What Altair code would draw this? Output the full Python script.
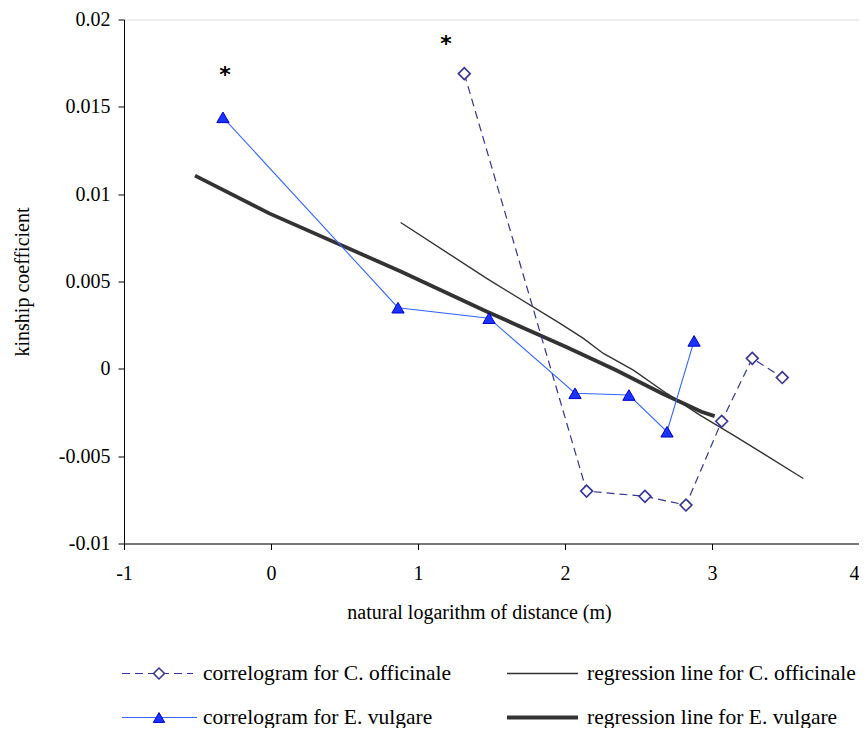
import altair as alt
import pandas as pd

# ---- data ----
cv_x = [-0.327, 0.864, 1.483, 2.068, 2.435, 2.694, 2.878]
cv_y = [0.0144, 0.0035, 0.0029, -0.0014, -0.0015, -0.0036, 0.0016]

co_x = [1.315, 2.147, 2.544, 2.823, 3.066, 3.274, 3.478]
co_y = [0.0169, -0.0070, -0.0073, -0.0078, -0.0030, 0.0006, -0.0005]

reg_co_x = [0.882, 1.467, 1.966, 2.125, 2.261, 2.465, 2.692, 2.918, 3.145, 3.349, 3.621]
reg_co_y = [0.00838, 0.00518, 0.00260, 0.00174, 0.00088, -0.00007, -0.00141, -0.00265, -0.00380, -0.00485, -0.00628]

reg_ev_x = [-0.517, -0.012, 0.887, 1.470, 2.005, 2.345, 2.661, 2.928, 3.018]
reg_ev_y = [0.01106, 0.00890, 0.00556, 0.00327, 0.00126, -0.00007, -0.00141, -0.00246, -0.00271]

star_x = [-0.313, 1.19]
star_y = [0.0168, 0.0186]

x_ticks = [-1, 0, 1, 2, 3, 4]
y_ticks = [-0.01, -0.005, 0, 0.005, 0.01, 0.015, 0.02]

legend_labels = ["correlogram for C. officinale", "regression line for C. officinale",
                 "correlogram for E. vulgare", "regression line for E. vulgare"]

FONT = "Liberation Serif"
W, H = 735, 524

xs = alt.Scale(domain=[-1, 4], nice=False, zero=False)
ys = alt.Scale(domain=[-0.01, 0.02], nice=False, zero=False)

xaxis = alt.Axis(values=x_ticks, grid=False, tickSize=6, domainColor="black", tickColor="black",
                 labelFont=FONT, labelFontSize=20, labelColor="black", labelPadding=14,
                 labelExpr="'' + datum.value",
                 labelAlign=alt.condition("datum.value == 4", alt.value("right"), alt.value("center")),
                 title="natural logarithm of distance (m)", titleFont=FONT, titleFontSize=20,
                 titleFontWeight="normal", titleColor="black", titleX=355, titleY=69,
                 titleBaseline="middle", titleAlign="center")
yaxis = alt.Axis(values=y_ticks, grid=False, tickSize=6, domainColor="black", tickColor="black",
                 labelFont=FONT, labelFontSize=20, labelColor="black", labelPadding=8,
                 labelExpr="'' + datum.value",
                 title="kinship coefficient", titleFont=FONT, titleFontSize=20,
                 titleFontWeight="normal", titleColor="black", titleX=-102, titleY=262,
                 titleAngle=270, titleBaseline="middle", titleAlign="center")

def df(x, y):
    return pd.DataFrame({"x": x, "y": y, "i": list(range(len(x)))})

enc = dict(x=alt.X("x:Q", scale=xs, axis=xaxis), y=alt.Y("y:Q", scale=ys, axis=yaxis),
           order="i:Q")

reg_co = alt.Chart(df(reg_co_x, reg_co_y)).mark_line(color="#333333", strokeWidth=1.4).encode(**enc)
reg_ev = alt.Chart(df(reg_ev_x, reg_ev_y)).mark_line(color="#333333", strokeWidth=3.8).encode(**enc)

co_line = alt.Chart(df(co_x, co_y)).mark_line(color="#333399", strokeWidth=1.2, strokeDash=[8, 5]).encode(**enc)
co_pts = alt.Chart(df(co_x, co_y)).mark_point(shape="diamond", size=140, filled=True, fill="white",
                                              stroke="#333399", strokeWidth=1.6, opacity=1).encode(
    x=alt.X("x:Q", scale=xs), y=alt.Y("y:Q", scale=ys))

ev_line = alt.Chart(df(cv_x, cv_y)).mark_line(color="#3366ff", strokeWidth=1.1).encode(**enc)
ev_pts = alt.Chart(df(cv_x, cv_y)).mark_point(shape="triangle-up", size=150, filled=True, fill="#1a33ff",
                                              stroke="#0000cc", strokeWidth=1, opacity=1).encode(
    x=alt.X("x:Q", scale=xs), y=alt.Y("y:Q", scale=ys))

stars = alt.Chart(df(star_x, star_y)).mark_text(text="*", font="DejaVu Sans", fontSize=22,
                                                fontWeight="bold", color="black", baseline="middle").encode(
    x=alt.X("x:Q", scale=xs), y=alt.Y("y:Q", scale=ys))

one = pd.DataFrame({"a": [0]})
R1, R2 = 654, 698

def lrule(x1, x2, yy, **kw):
    return alt.Chart(one).mark_rule(**kw).encode(x=alt.value(x1), x2=alt.value(x2), y=alt.value(yy))

def ltext(xx, yy, t):
    return alt.Chart(one).mark_text(align="left", baseline="middle", font=FONT, fontSize=21.5,
                                    color="black").encode(x=alt.value(xx), y=alt.value(yy), text=alt.value(t))

legend = [
    lrule(-2, 69, R1, color="#333399", strokeWidth=1.2, strokeDash=[8, 5]),
    alt.Chart(one).mark_point(shape="diamond", size=120, filled=True, fill="white", stroke="#333399",
                              strokeWidth=1.6, opacity=1).encode(x=alt.value(35), y=alt.value(R1)),
    ltext(79, R1, legend_labels[0]),
    lrule(383, 454, R1, color="#333333", strokeWidth=1.4),
    ltext(463, R1, legend_labels[1]),
    lrule(-2, 73, R2, color="#3366ff", strokeWidth=1.1),
    alt.Chart(one).mark_point(shape="triangle-up", size=130, filled=True, fill="#1a33ff", stroke="#0000cc",
                              strokeWidth=1, opacity=1).encode(x=alt.value(35), y=alt.value(R2)),
    ltext(79, R2, legend_labels[2]),
    lrule(383, 454, R2, color="#333333", strokeWidth=3.8),
    ltext(463, R2, legend_labels[3]),
]

chart = alt.layer(reg_co, reg_ev, co_line, co_pts, ev_line, ev_pts, stars, *legend).properties(
    width=W, height=H,
    autosize=alt.AutoSizeParams(type="none"),
    padding={"left": 116, "top": 11.5, "right": 0, "bottom": 184},
).configure_view(stroke="#8c8c8c", strokeWidth=1).configure(background="white")

chart.save("out.html", embed_options={"renderer": "svg", "actions": False})
